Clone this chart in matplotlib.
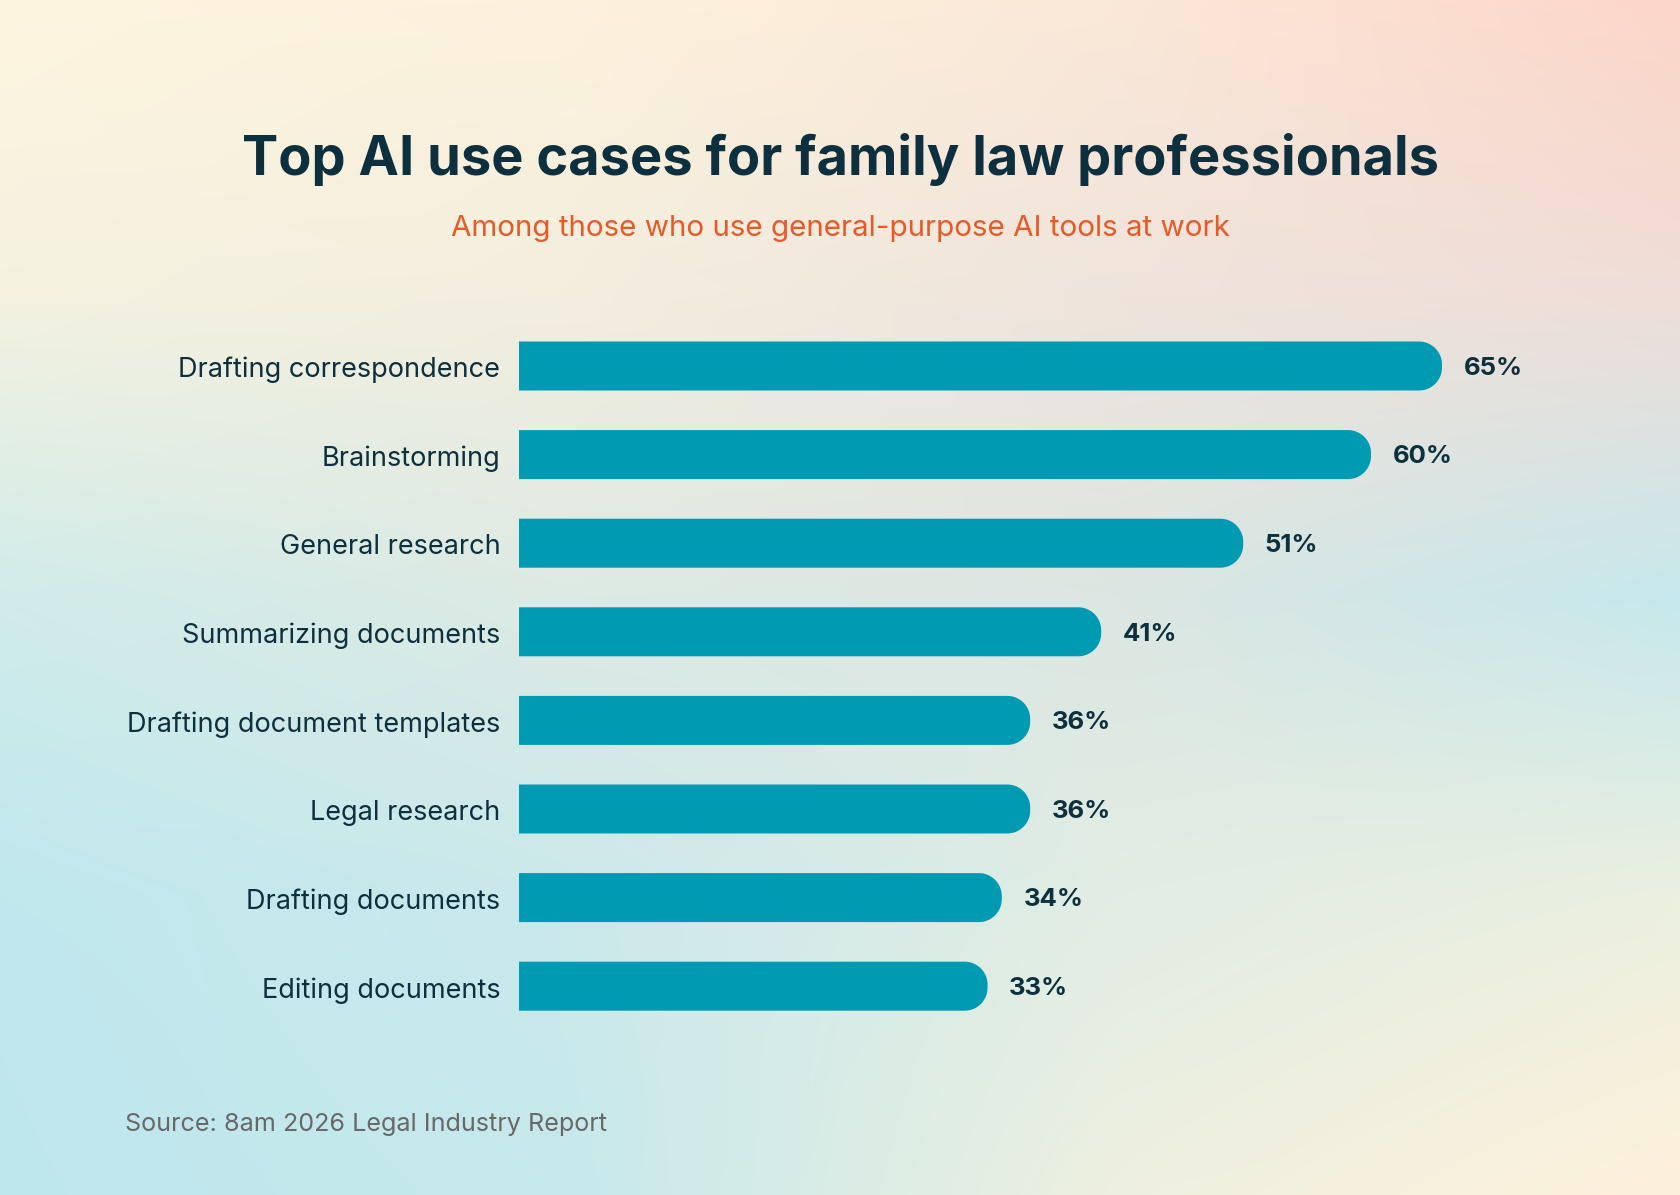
import numpy as np
import matplotlib.pyplot as plt
from matplotlib.colors import to_rgb
from matplotlib.patches import Polygon

# data
categories = ["Drafting correspondence", "Brainstorming", "General research",
              "Summarizing documents", "Drafting document templates",
              "Legal research", "Drafting documents", "Editing documents"]
values = [65, 60, 51, 41, 36, 36, 34, 33]

title = "Top AI use cases for family law professionals"
subtitle = "Among those who use general-purpose AI tools at work"
source = "Source: 8am 2026 Legal Industry Report"

DARK = "#0E2F3D"
ORANGE = "#E65A28"
BAR = "#019AB3"

W, H = 1680, 1195
fig = plt.figure(figsize=(W / 100, H / 100), dpi=100)

# soft gradient background (rows top -> bottom)
bg_grid = [["#FEF5DF", "#FDF2DC", "#FBE8D8", "#FDD6C8"],
           ["#F4F2E0", "#F3EEDF", "#EFE4DC", "#EFDED8"],
           ["#D0ECEA", "#DDEAE4", "#DCE6E2", "#C6E8EC"],
           ["#C0E8EE", "#CBE9EB", "#E2EDE4", "#EBF0E0"],
           ["#BEE7EE", "#C6E9EC", "#EEF0E0", "#FEF1DA"]]
bg = np.array([[to_rgb(c) for c in row] for row in bg_grid])
nr, nc = bg.shape[:2]
dx, dy = 0.5 / (nc - 1), 0.5 / (nr - 1)
bax = fig.add_axes([0, 0, 1, 1])
bax.imshow(bg, extent=[-dx, 1 + dx, -dy, 1 + dy], aspect="auto",
           interpolation="bilinear")
bax.set_xlim(0, 1)
bax.set_ylim(0, 1)
bax.axis("off")

fig.text(0.5, 1 - 160 / H, title, ha="center", va="center",
         fontsize=39, fontweight="bold", color=DARK, family="Inter")
fig.text(0.5, 1 - 229 / H, subtitle, ha="center", va="center",
         fontsize=21.3, color=ORANGE, family="Inter")
fig.text(125 / W, 1 - 1125 / H, source, ha="left", va="center",
         fontsize=18.1, color="#686868", family="Inter")

# bar axes: x 0 at 519px, 14.2 px per %
x0_px, px_per = 519, 14.2
xmax = 70
top_px, step = 366, 88.6
n = len(categories)
ax_top = top_px - step / 2
ax_bot = top_px + step * (n - 0.5)
ax = fig.add_axes([x0_px / W, 1 - ax_bot / H, xmax * px_per / W, (ax_bot - ax_top) / H])
ax.set_xlim(0, xmax)
ax.set_ylim(n - 0.5, -0.5)
ax.patch.set_alpha(0)
for s in ax.spines.values():
    s.set_visible(False)
ax.set_xticks([])

bar_h = 49 / step
r_px = 23
rx = r_px / px_per
ry = r_px / step
t = np.linspace(0, np.pi / 2, 20)


def right_rounded(v, yc):
    y0, y1 = yc - bar_h / 2, yc + bar_h / 2
    xc = v - rx
    c1 = np.column_stack([xc + rx * np.sin(t), y0 + ry - ry * np.cos(t)])
    c2 = np.column_stack([xc + rx * np.cos(t), y1 - ry + ry * np.sin(t)])
    pts = np.vstack([[0, y0], c1, c2, [0, y1]])
    return Polygon(pts, closed=True, fc=BAR, ec="none")


for i, v in enumerate(values):
    ax.add_patch(right_rounded(v, i))
    ax.annotate(f"{v}%", (v, i + 0.025), xytext=(15.5, 0), textcoords="offset points",
                ha="left", va="center", fontsize=18.5, fontweight="bold",
                color=DARK, family="Inter")

ax.set_yticks(np.arange(n) + 0.012)
ax.set_yticklabels(categories, fontsize=19.5, color=DARK, family="Inter")
ax.tick_params(axis="y", length=0, pad=13.5)

fig.savefig("out.png", dpi=100)
